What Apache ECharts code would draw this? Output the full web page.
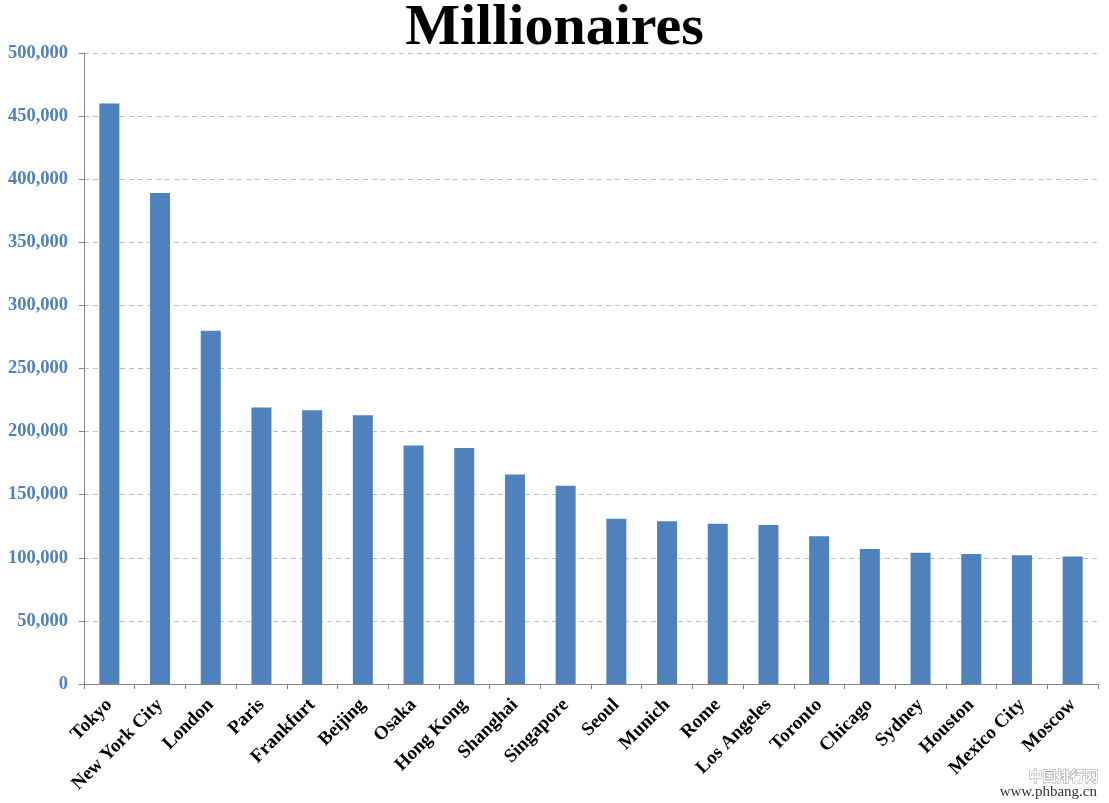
<!DOCTYPE html>
<html>
<head>
<meta charset="utf-8">
<script src="https://cdn.jsdelivr.net/npm/echarts@6/dist/echarts.min.js"></script>
<style>html,body{margin:0;padding:0;background:#fff;}#c{width:1109px;height:803px;}</style>
</head>
<body>
<div id="c"></div>
<script>
const categories = ["Tokyo","New York City","London","Paris","Frankfurt","Beijing","Osaka","Hong Kong","Shanghai","Singapore","Seoul","Munich","Rome","Los Angeles","Toronto","Chicago","Sydney","Houston","Mexico City","Moscow"];
const millionaires = [460000,389000,280000,219000,217000,213000,189000,187000,166000,157000,131000,129000,127000,126000,117000,107000,104000,103000,102000,101000];
const yTicks = {min:0, max:500000, interval:50000};

const chart = echarts.init(document.getElementById('c'));
const serif = '"Liberation Serif","DejaVu Serif",serif';
chart.setOption({
  animation:false,
  title:{text:'Millionaires', left:'center', top:-5,
    textStyle:{fontFamily:serif, fontWeight:'bold', fontSize:58, color:'#000'}},
  grid:{left:84, right:11, top:53, bottom:119, containLabel:false},
  xAxis:{type:'category', data:categories,
    axisLine:{lineStyle:{color:'#868686', width:1}},
    axisTick:{show:true, length:5, lineStyle:{color:'#868686'}},
    axisLabel:{rotate:45, interval:0, margin:18, fontFamily:serif, fontWeight:'bold', fontSize:19, color:'#000'}},
  yAxis:{type:'value', min:yTicks.min, max:yTicks.max, interval:yTicks.interval,
    axisLine:{show:true, lineStyle:{color:'#868686'}},
    axisTick:{show:true, length:5, lineStyle:{color:'#868686'}},
    splitLine:{lineStyle:{color:'#BFBFBF', type:[5,4]}},
    axisLabel:{margin:16, fontFamily:serif, fontWeight:'bold', fontSize:18.5, color:'#4F81BD',
      formatter:v=>v.toLocaleString('en-US')}},
  series:[{type:'bar', data:millionaires, barWidth:20, itemStyle:{color:'#4F81BD'}}],
  graphic:[
    {type:'text', right:10, bottom:20, style:{text:'中国排行网', font:'bold 14px "Noto Sans CJK SC"', fill:'#fff', stroke:'#999', lineWidth:1}},
    {type:'text', right:12, bottom:3, style:{text:'www.phbang.cn', font:'15px "Liberation Serif"', fill:'#333'}}
  ]
});
</script>
</body>
</html>
